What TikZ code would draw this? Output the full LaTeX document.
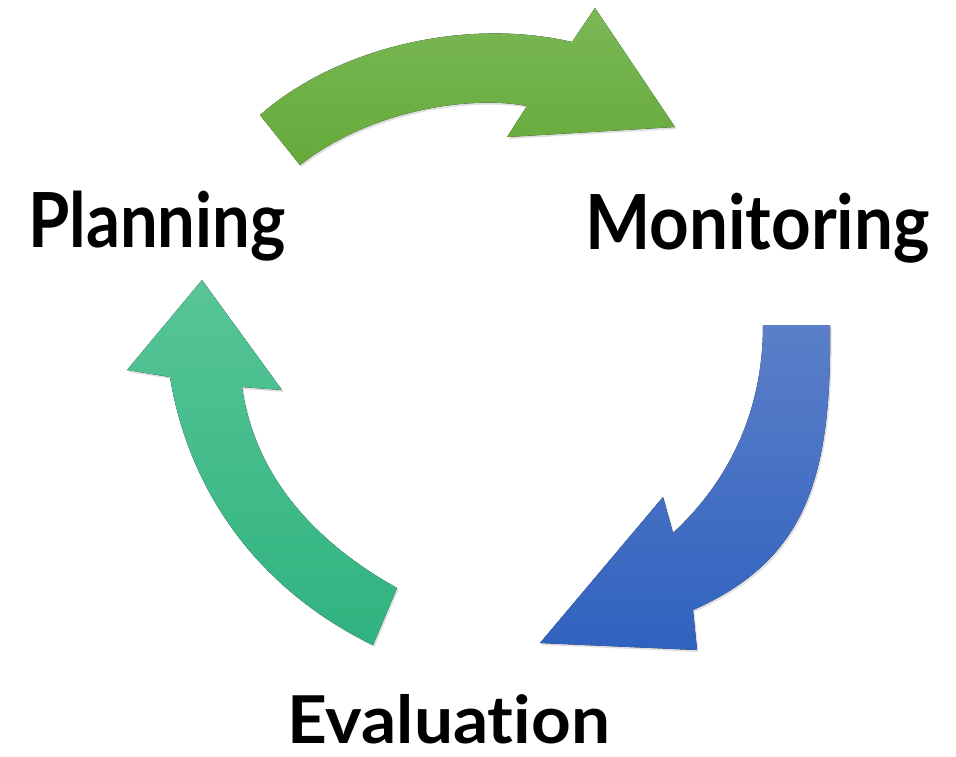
\documentclass[tikz,border=0pt]{standalone}
\usepackage{fontspec}
\setmainfont{Lato}[Ligatures=NoCommon]
\usepackage{tikz}
\usetikzlibrary{shadows}
\usetikzlibrary{positioning}

\definecolor{gtop}{HTML}{7AB856}
\definecolor{gbot}{HTML}{66AA3A}
\definecolor{btop}{HTML}{5B7FC8}
\definecolor{bbot}{HTML}{2F62BF}
\definecolor{ttop}{HTML}{58C597}
\definecolor{tbot}{HTML}{2FB380}

\begin{document}
\begin{tikzpicture}[x=1pt,y=-1pt,
  arr/.style={drop shadow={opacity=0.25,shadow xshift=1.5pt,shadow yshift=-2pt}},
  lbl/.style={draw=none,inner sep=0pt,font=\fontsize{76}{90}\selectfont\bfseries}]

\useasboundingbox (0,0) rectangle (956,756);

% top arrow
\coordinate (g0) at (260,115);
\coordinate (g1) at (572,42);
\coordinate (g2) at (595,8);
\coordinate (g3) at (675,127);
\coordinate (g4) at (507,137);
\coordinate (g5) at (527,106);
\coordinate (g6) at (300,165);

\fill[arr,top color=gtop,bottom color=gbot] (g0) .. controls (340,45) and (470,18) .. (g1)
  -- (g2) -- (g3) -- (g4) -- (g5) .. controls (470,95) and (370,110) .. (g6) -- cycle;

% right arrow
\coordinate (b0) at (763,325);
\coordinate (b1) at (830,325);
\coordinate (b2) at (693,610);
\coordinate (b3) at (697,650);
\coordinate (b4) at (540,643);
\coordinate (b5) at (663,497);
\coordinate (b6) at (673,533);

\fill[arr,top color=btop,bottom color=bbot] (b0) -- (b1) .. controls (832,480) and (805,560) .. (b2)
  -- (b3) -- (b4) -- (b5) -- (b6) .. controls (730,480) and (763,410) .. (b0) -- cycle;

% left arrow
\coordinate (t0) at (373,645);
\coordinate (t1) at (397,588);
\coordinate (t2) at (242,387);
\coordinate (t3) at (282,390);
\coordinate (t4) at (202,280);
\coordinate (t5) at (127,370);
\coordinate (t6) at (170,377);

\fill[arr,top color=ttop,bottom color=tbot] (t0) -- (t1) .. controls (320,545) and (255,480) .. (t2)
  -- (t3) -- (t4) -- (t5) -- (t6) .. controls (185,470) and (240,580) .. (t0) -- cycle;

\node[lbl,anchor=base west] (plan) at (28,247) {\scalebox{0.88}[1]{Planning}};
\node[lbl,anchor=base west] (mon) at (585,249) {\scalebox{0.91}[1]{Monitoring}};
\node[lbl,anchor=base west,font=\fontsize{66}{80}\selectfont\bfseries] (eval) at (287,743) {\scalebox{1.05}[1]{Evaluation}};

\end{tikzpicture}
\end{document}
